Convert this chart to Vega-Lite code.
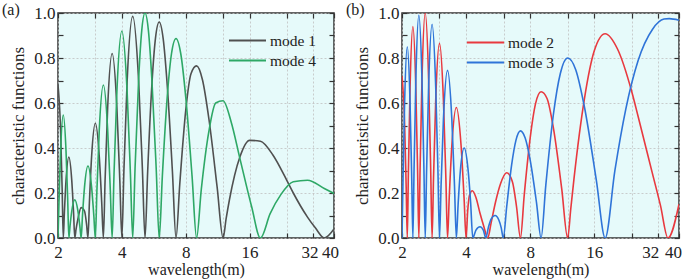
{
  "$schema": "https://vega.github.io/schema/vega-lite/v6.json",
  "padding": {"left": 1, "top": 1, "right": 2, "bottom": 0},
  "background": "white",
  "spacing": 5,
  "config": {
    "font": "Liberation Serif",
    "view": {"stroke": "#333333", "strokeWidth": 1.5, "fill": "#e6fafa"},
    "axis": {
      "labelFont": "Liberation Serif", "labelFontSize": 17, "labelColor": "#222222",
      "titleFont": "Liberation Serif", "titleFontSize": 17, "titleFontWeight": "normal", "titleColor": "#222222",
      "tickColor": "#333333", "tickWidth": 1.2, "domain": false, "labelOverlap": false, "labelFlush": false,
      "gridColor": "#c0c0c0", "gridDash": [2, 2], "gridWidth": 0.8
    },
    "legend": {"labelFont": "Liberation Serif", "labelFontSize": 15.5, "labelColor": "#222222", "padding": 0},
    "title": {"font": "Liberation Serif", "fontSize": 16, "fontWeight": "normal", "color": "#222222"}
  },
  "datasets": {
    "a": [
      {"x": 2, "y": 0.68, "m": "mode 1"}, {"x": 2.057, "y": 0.48, "m": "mode 1"}, {"x": 2.093, "y": 0.21, "m": "mode 1"}, {"x": 2.1176, "y": 0, "m": "mode 1"},
      {"x": 2.1429, "y": 0.111, "m": "mode 1"}, {"x": 2.1818, "y": 0.255, "m": "mode 1"}, {"x": 2.25, "y": 0.36, "m": "mode 1"}, {"x": 2.3226, "y": 0.255, "m": "mode 1"}, {"x": 2.3684, "y": 0.111, "m": "mode 1"}, {"x": 2.4, "y": 0, "m": "mode 1"},
      {"x": 2.4324, "y": 0.038, "m": "mode 1"}, {"x": 2.4828, "y": 0.085, "m": "mode 1"}, {"x": 2.5714, "y": 0.135, "m": "mode 1"}, {"x": 2.6667, "y": 0.12, "m": "mode 1"}, {"x": 2.7273, "y": 0.06, "m": "mode 1"}, {"x": 2.7692, "y": 0, "m": "mode 1"},
      {"x": 2.8125, "y": 0.158, "m": "mode 1"}, {"x": 2.88, "y": 0.361, "m": "mode 1"}, {"x": 3.0, "y": 0.51, "m": "mode 1"}, {"x": 3.1304, "y": 0.361, "m": "mode 1"}, {"x": 3.2143, "y": 0.158, "m": "mode 1"}, {"x": 3.2727, "y": 0, "m": "mode 1"},
      {"x": 3.3333, "y": 0.253, "m": "mode 1"}, {"x": 3.4286, "y": 0.58, "m": "mode 1"}, {"x": 3.6, "y": 0.82, "m": "mode 1"}, {"x": 3.7895, "y": 0.58, "m": "mode 1"}, {"x": 3.913, "y": 0.253, "m": "mode 1"}, {"x": 4.0, "y": 0, "m": "mode 1"},
      {"x": 4.0909, "y": 0.304, "m": "mode 1"}, {"x": 4.2353, "y": 0.696, "m": "mode 1"}, {"x": 4.5, "y": 0.985, "m": "mode 1"}, {"x": 4.8, "y": 0.696, "m": "mode 1"}, {"x": 5.0, "y": 0.304, "m": "mode 1"}, {"x": 5.1429, "y": 0, "m": "mode 1"},
      {"x": 5.2941, "y": 0.297, "m": "mode 1"}, {"x": 5.5385, "y": 0.679, "m": "mode 1"}, {"x": 5.76, "y": 0.887, "m": "mode 1"}, {"x": 6.0, "y": 0.96, "m": "mode 1"}, {"x": 6.2609, "y": 0.887, "m": "mode 1"}, {"x": 6.5455, "y": 0.679, "m": "mode 1"}, {"x": 6.9231, "y": 0.297, "m": "mode 1"}, {"x": 7.2, "y": 0, "m": "mode 1"},
      {"x": 7.5, "y": 0.24, "m": "mode 1"}, {"x": 8.0, "y": 0.566, "m": "mode 1"}, {"x": 8.4706, "y": 0.73, "m": "mode 1"}, {"x": 9.0, "y": 0.765, "m": "mode 1"}, {"x": 9.6, "y": 0.702, "m": "mode 1"}, {"x": 10.286, "y": 0.53, "m": "mode 1"}, {"x": 11.25, "y": 0.226, "m": "mode 1"}, {"x": 12, "y": 0, "m": "mode 1"},
      {"x": 12.41, "y": 0.087, "m": "mode 1"}, {"x": 12.857, "y": 0.17, "m": "mode 1"}, {"x": 14.4, "y": 0.36, "m": "mode 1"}, {"x": 16, "y": 0.434, "m": "mode 1"}, {"x": 18, "y": 0.43, "m": "mode 1"}, {"x": 20.57, "y": 0.37, "m": "mode 1"}, {"x": 24, "y": 0.255, "m": "mode 1"}, {"x": 25.71, "y": 0.2, "m": "mode 1"}, {"x": 30, "y": 0.093, "m": "mode 1"}, {"x": 32.73, "y": 0.044, "m": "mode 1"}, {"x": 36, "y": 0, "m": "mode 1"}, {"x": 40, "y": 0.04, "m": "mode 1"},
      {"x": 2, "y": 0, "m": "mode 4"}, {"x": 2.0225, "y": 0.169, "m": "mode 4"}, {"x": 2.0571, "y": 0.387, "m": "mode 4"}, {"x": 2.1176, "y": 0.547, "m": "mode 4"}, {"x": 2.1818, "y": 0.387, "m": "mode 4"}, {"x": 2.2222, "y": 0.169, "m": "mode 4"}, {"x": 2.25, "y": 0, "m": "mode 4"},
      {"x": 2.2785, "y": 0.053, "m": "mode 4"}, {"x": 2.3226, "y": 0.12, "m": "mode 4"}, {"x": 2.4, "y": 0.17, "m": "mode 4"}, {"x": 2.4828, "y": 0.12, "m": "mode 4"}, {"x": 2.5352, "y": 0.053, "m": "mode 4"}, {"x": 2.5714, "y": 0, "m": "mode 4"},
      {"x": 2.6087, "y": 0.099, "m": "mode 4"}, {"x": 2.6667, "y": 0.226, "m": "mode 4"}, {"x": 2.7692, "y": 0.32, "m": "mode 4"}, {"x": 2.88, "y": 0.226, "m": "mode 4"}, {"x": 2.9508, "y": 0.099, "m": "mode 4"}, {"x": 3.0, "y": 0, "m": "mode 4"},
      {"x": 3.0508, "y": 0.21, "m": "mode 4"}, {"x": 3.1304, "y": 0.481, "m": "mode 4"}, {"x": 3.2727, "y": 0.68, "m": "mode 4"}, {"x": 3.4286, "y": 0.481, "m": "mode 4"}, {"x": 3.5294, "y": 0.21, "m": "mode 4"}, {"x": 3.6, "y": 0, "m": "mode 4"},
      {"x": 3.6735, "y": 0.284, "m": "mode 4"}, {"x": 3.7895, "y": 0.65, "m": "mode 4"}, {"x": 4.0, "y": 0.92, "m": "mode 4"}, {"x": 4.2353, "y": 0.65, "m": "mode 4"}, {"x": 4.3902, "y": 0.284, "m": "mode 4"}, {"x": 4.5, "y": 0, "m": "mode 4"},
      {"x": 4.6154, "y": 0.309, "m": "mode 4"}, {"x": 4.8, "y": 0.707, "m": "mode 4"}, {"x": 4.9655, "y": 0.924, "m": "mode 4"}, {"x": 5.1429, "y": 1.0, "m": "mode 4"}, {"x": 5.3333, "y": 0.924, "m": "mode 4"}, {"x": 5.5385, "y": 0.707, "m": "mode 4"}, {"x": 5.8065, "y": 0.309, "m": "mode 4"}, {"x": 6.0, "y": 0, "m": "mode 4"},
      {"x": 6.2069, "y": 0.274, "m": "mode 4"}, {"x": 6.5455, "y": 0.627, "m": "mode 4"}, {"x": 6.8571, "y": 0.82, "m": "mode 4"}, {"x": 7.2, "y": 0.887, "m": "mode 4"}, {"x": 7.5789, "y": 0.82, "m": "mode 4"}, {"x": 8.0, "y": 0.627, "m": "mode 4"}, {"x": 8.5714, "y": 0.274, "m": "mode 4"}, {"x": 9.0, "y": 0, "m": "mode 4"},
      {"x": 9.4737, "y": 0.216, "m": "mode 4"}, {"x": 10.286, "y": 0.474, "m": "mode 4"}, {"x": 11.077, "y": 0.6, "m": "mode 4"}, {"x": 12, "y": 0.61, "m": "mode 4"}, {"x": 13.091, "y": 0.517, "m": "mode 4"}, {"x": 14.4, "y": 0.354, "m": "mode 4"}, {"x": 16.364, "y": 0.139, "m": "mode 4"}, {"x": 18, "y": 0, "m": "mode 4"},
      {"x": 20, "y": 0.108, "m": "mode 4"}, {"x": 22.5, "y": 0.194, "m": "mode 4"}, {"x": 25.71, "y": 0.25, "m": "mode 4"}, {"x": 30, "y": 0.257, "m": "mode 4"}, {"x": 36, "y": 0.22, "m": "mode 4"}, {"x": 40, "y": 0.198, "m": "mode 4"}
    ],
    "b": [
      {"x": 2, "y": 0.72, "m": "mode 2"}, {"x": 2.057, "y": 0.51, "m": "mode 2"}, {"x": 2.093, "y": 0.22, "m": "mode 2"}, {"x": 2.1176, "y": 0, "m": "mode 2"},
      {"x": 2.1429, "y": 0.29, "m": "mode 2"}, {"x": 2.1818, "y": 0.665, "m": "mode 2"}, {"x": 2.25, "y": 0.94, "m": "mode 2"}, {"x": 2.3226, "y": 0.665, "m": "mode 2"}, {"x": 2.3684, "y": 0.29, "m": "mode 2"}, {"x": 2.4, "y": 0, "m": "mode 2"},
      {"x": 2.4324, "y": 0.309, "m": "mode 2"}, {"x": 2.4828, "y": 0.707, "m": "mode 2"}, {"x": 2.5714, "y": 1.0, "m": "mode 2"}, {"x": 2.6667, "y": 0.707, "m": "mode 2"}, {"x": 2.7273, "y": 0.309, "m": "mode 2"}, {"x": 2.7692, "y": 0, "m": "mode 2"},
      {"x": 2.8125, "y": 0.267, "m": "mode 2"}, {"x": 2.88, "y": 0.612, "m": "mode 2"}, {"x": 3.0, "y": 0.865, "m": "mode 2"}, {"x": 3.1304, "y": 0.612, "m": "mode 2"}, {"x": 3.2143, "y": 0.267, "m": "mode 2"}, {"x": 3.2727, "y": 0, "m": "mode 2"},
      {"x": 3.3333, "y": 0.179, "m": "mode 2"}, {"x": 3.4286, "y": 0.41, "m": "mode 2"}, {"x": 3.6, "y": 0.58, "m": "mode 2"}, {"x": 3.7895, "y": 0.41, "m": "mode 2"}, {"x": 3.913, "y": 0.179, "m": "mode 2"}, {"x": 4.0, "y": 0, "m": "mode 2"},
      {"x": 4.07, "y": 0.12, "m": "mode 2"}, {"x": 4.15, "y": 0.19, "m": "mode 2"}, {"x": 4.28, "y": 0.21, "m": "mode 2"}, {"x": 4.45, "y": 0.18, "m": "mode 2"}, {"x": 4.65, "y": 0.11, "m": "mode 2"}, {"x": 4.85, "y": 0.05, "m": "mode 2"}, {"x": 5.05, "y": 0, "m": "mode 2"},
      {"x": 5.25, "y": 0.07, "m": "mode 2"}, {"x": 5.5, "y": 0.16, "m": "mode 2"}, {"x": 5.8, "y": 0.24, "m": "mode 2"}, {"x": 6.2, "y": 0.29, "m": "mode 2"}, {"x": 6.6, "y": 0.25, "m": "mode 2"}, {"x": 6.9, "y": 0.14, "m": "mode 2"}, {"x": 7.2, "y": 0, "m": "mode 2"},
      {"x": 7.5, "y": 0.19, "m": "mode 2"}, {"x": 8.0, "y": 0.445, "m": "mode 2"}, {"x": 8.4706, "y": 0.596, "m": "mode 2"}, {"x": 9.0, "y": 0.65, "m": "mode 2"}, {"x": 9.6, "y": 0.62, "m": "mode 2"}, {"x": 10.286, "y": 0.488, "m": "mode 2"}, {"x": 11.25, "y": 0.219, "m": "mode 2"}, {"x": 12, "y": 0, "m": "mode 2"},
      {"x": 12.41, "y": 0.13, "m": "mode 2"}, {"x": 12.857, "y": 0.266, "m": "mode 2"}, {"x": 14.4, "y": 0.622, "m": "mode 2"}, {"x": 16, "y": 0.832, "m": "mode 2"}, {"x": 18, "y": 0.908, "m": "mode 2"}, {"x": 20.57, "y": 0.84, "m": "mode 2"}, {"x": 24, "y": 0.65, "m": "mode 2"}, {"x": 25.71, "y": 0.54, "m": "mode 2"}, {"x": 30, "y": 0.287, "m": "mode 2"}, {"x": 32.73, "y": 0.145, "m": "mode 2"}, {"x": 35.5, "y": 0, "m": "mode 2"}, {"x": 40, "y": 0.15, "m": "mode 2"},
      {"x": 2, "y": 0, "m": "mode 3"}, {"x": 2.0225, "y": 0.263, "m": "mode 3"}, {"x": 2.0571, "y": 0.601, "m": "mode 3"}, {"x": 2.1176, "y": 0.85, "m": "mode 3"}, {"x": 2.1818, "y": 0.601, "m": "mode 3"}, {"x": 2.2222, "y": 0.263, "m": "mode 3"}, {"x": 2.25, "y": 0, "m": "mode 3"},
      {"x": 2.2785, "y": 0.306, "m": "mode 3"}, {"x": 2.3226, "y": 0.7, "m": "mode 3"}, {"x": 2.4, "y": 0.99, "m": "mode 3"}, {"x": 2.4828, "y": 0.7, "m": "mode 3"}, {"x": 2.5352, "y": 0.306, "m": "mode 3"}, {"x": 2.5714, "y": 0, "m": "mode 3"},
      {"x": 2.6087, "y": 0.294, "m": "mode 3"}, {"x": 2.6667, "y": 0.672, "m": "mode 3"}, {"x": 2.7692, "y": 0.95, "m": "mode 3"}, {"x": 2.88, "y": 0.672, "m": "mode 3"}, {"x": 2.9508, "y": 0.294, "m": "mode 3"}, {"x": 3.0, "y": 0, "m": "mode 3"},
      {"x": 3.0508, "y": 0.23, "m": "mode 3"}, {"x": 3.1304, "y": 0.527, "m": "mode 3"}, {"x": 3.2727, "y": 0.745, "m": "mode 3"}, {"x": 3.4286, "y": 0.527, "m": "mode 3"}, {"x": 3.5294, "y": 0.23, "m": "mode 3"}, {"x": 3.6, "y": 0, "m": "mode 3"},
      {"x": 3.67, "y": 0.15, "m": "mode 3"}, {"x": 3.76, "y": 0.3, "m": "mode 3"}, {"x": 3.92, "y": 0.4, "m": "mode 3"}, {"x": 4.08, "y": 0.31, "m": "mode 3"}, {"x": 4.2, "y": 0.16, "m": "mode 3"}, {"x": 4.3, "y": 0, "m": "mode 3"},
      {"x": 4.45, "y": 0.035, "m": "mode 3"}, {"x": 4.65, "y": 0.05, "m": "mode 3"}, {"x": 4.82, "y": 0.035, "m": "mode 3"}, {"x": 4.95, "y": 0, "m": "mode 3"},
      {"x": 5.1, "y": 0.05, "m": "mode 3"}, {"x": 5.25, "y": 0.085, "m": "mode 3"}, {"x": 5.47, "y": 0.1, "m": "mode 3"}, {"x": 5.7, "y": 0.08, "m": "mode 3"}, {"x": 5.85, "y": 0.045, "m": "mode 3"}, {"x": 5.98, "y": 0, "m": "mode 3"},
      {"x": 6.2069, "y": 0.14, "m": "mode 3"}, {"x": 6.5455, "y": 0.325, "m": "mode 3"}, {"x": 6.8571, "y": 0.434, "m": "mode 3"}, {"x": 7.2, "y": 0.476, "m": "mode 3"}, {"x": 7.5789, "y": 0.444, "m": "mode 3"}, {"x": 8.0, "y": 0.346, "m": "mode 3"}, {"x": 8.5714, "y": 0.155, "m": "mode 3"}, {"x": 9.0, "y": 0, "m": "mode 3"},
      {"x": 9.4737, "y": 0.235, "m": "mode 3"}, {"x": 10.286, "y": 0.55, "m": "mode 3"}, {"x": 11.077, "y": 0.73, "m": "mode 3"}, {"x": 12, "y": 0.8, "m": "mode 3"}, {"x": 13.091, "y": 0.748, "m": "mode 3"}, {"x": 14.4, "y": 0.58, "m": "mode 3"}, {"x": 16.364, "y": 0.256, "m": "mode 3"}, {"x": 18, "y": 0, "m": "mode 3"},
      {"x": 20, "y": 0.3, "m": "mode 3"}, {"x": 22.5, "y": 0.573, "m": "mode 3"}, {"x": 25.71, "y": 0.789, "m": "mode 3"}, {"x": 30, "y": 0.927, "m": "mode 3"}, {"x": 34, "y": 0.973, "m": "mode 3"}, {"x": 36, "y": 0.975, "m": "mode 3"}, {"x": 40, "y": 0.968, "m": "mode 3"}
    ]
  },
  "hconcat": [
    {
      "width": 276, "height": 225,
      "title": {"text": "(a)", "anchor": "start", "frame": "group", "dx": -56, "offset": 0, "dy": 14},
      "data": {"name": "a"},
      "layer": [
        {
          "mark": {"type": "line", "strokeWidth": 1.6, "interpolate": "monotone", "clip": true},
          "encoding": {
            "x": {"field": "x", "type": "quantitative", "scale": {"type": "log", "base": 2, "domain": [2, 40], "nice": false},
                  "axis": {"orient": "bottom", "values": [2, 3, 4, 6, 8, 12, 16, 24, 32, 40], "labelExpr": "indexof([2,4,8,16,32,40], datum.value) >= 0 ? datum.value : ''",
                           "labelOffset": {"condition": [{"test": "datum.value == 32", "value": -4}, {"test": "datum.value == 40", "value": -4}], "value": 0},
                           "title": "wavelength(m)", "titleFontSize": 16, "tickSize": -5, "labelPadding": 11.5, "grid": true, "titlePadding": 1}},
            "y": {"field": "y", "type": "quantitative", "scale": {"domain": [0, 1], "nice": false},
                  "axis": {"orient": "left", "values": [0, 0.1, 0.2, 0.3, 0.4, 0.5, 0.6, 0.7, 0.8, 0.9, 1.0], "labelExpr": "round(datum.value * 10) % 2 == 0 ? format(datum.value, '.1f') : ''", "title": "characteristic functions", "tickSize": -5, "labelPadding": 8, "grid": false, "titlePadding": 6}},
            "color": {"field": "m", "type": "nominal", "scale": {"domain": ["mode 1", "mode 4"], "range": ["#505050", "#2ea866"]},
                      "legend": {"title": null, "orient": "none", "legendX": 179, "legendY": 17, "symbolType": "M-2,0L2,0", "symbolSize": 342, "symbolStrokeWidth": 1.8, "rowPadding": 1, "labelOffset": 12}}
          }
        },
        {
          "mark": {"type": "point", "opacity": 0},
          "encoding": {
            "x": {"field": "x", "type": "quantitative", "axis": {"orient": "top", "values": [2, 3, 4, 6, 8, 12, 16, 24, 32, 40], "labels": false, "title": null, "tickSize": -5, "grid": false}},
            "y": {"field": "y", "type": "quantitative", "axis": {"orient": "right", "values": [0, 0.1, 0.2, 0.3, 0.4, 0.5, 0.6, 0.7, 0.8, 0.9, 1.0], "labels": false, "title": null, "tickSize": -5, "grid": true,
                  "gridOpacity": {"condition": {"test": "round(datum.value * 10) % 2 == 0", "value": 1}, "value": 0}}}
          }
        }
      ],
      "resolve": {"axis": {"x": "independent", "y": "independent"}}
    },
    {
      "width": 277, "height": 225,
      "title": {"text": "(b)", "anchor": "start", "frame": "group", "dx": -56, "offset": 0, "dy": 14},
      "data": {"name": "b"},
      "layer": [
        {
          "mark": {"type": "line", "strokeWidth": 1.6, "interpolate": "monotone", "clip": true},
          "encoding": {
            "x": {"field": "x", "type": "quantitative", "scale": {"type": "log", "base": 2, "domain": [2, 40], "nice": false},
                  "axis": {"orient": "bottom", "values": [2, 3, 4, 6, 8, 12, 16, 24, 32, 40], "labelExpr": "indexof([2,4,8,16,32,40], datum.value) >= 0 ? datum.value : ''",
                           "labelOffset": {"condition": [{"test": "datum.value == 32", "value": -8}, {"test": "datum.value == 40", "value": -6}], "value": 0},
                           "title": "wavelength(m)", "titleFontSize": 16, "tickSize": -5, "labelPadding": 11.5, "grid": true, "titlePadding": 1}},
            "y": {"field": "y", "type": "quantitative", "scale": {"domain": [0, 1], "nice": false},
                  "axis": {"orient": "left", "values": [0, 0.1, 0.2, 0.3, 0.4, 0.5, 0.6, 0.7, 0.8, 0.9, 1.0], "labelExpr": "round(datum.value * 10) % 2 == 0 ? format(datum.value, '.1f') : ''", "title": "characteristic functions", "tickSize": -5, "labelPadding": 8, "grid": false, "titlePadding": 6}},
            "color": {"field": "m", "type": "nominal", "scale": {"domain": ["mode 2", "mode 3"], "range": ["#e8393f", "#2f74d8"]},
                      "legend": {"title": null, "orient": "none", "legendX": 73, "legendY": 19, "symbolType": "M-2,0L2,0", "symbolSize": 342, "symbolStrokeWidth": 1.8, "rowPadding": 1, "labelOffset": 12}}
          }
        },
        {
          "mark": {"type": "point", "opacity": 0},
          "encoding": {
            "x": {"field": "x", "type": "quantitative", "axis": {"orient": "top", "values": [2, 3, 4, 6, 8, 12, 16, 24, 32, 40], "labels": false, "title": null, "tickSize": -5, "grid": false}},
            "y": {"field": "y", "type": "quantitative", "axis": {"orient": "right", "values": [0, 0.1, 0.2, 0.3, 0.4, 0.5, 0.6, 0.7, 0.8, 0.9, 1.0], "labels": false, "title": null, "tickSize": -5, "grid": true,
                  "gridOpacity": {"condition": {"test": "round(datum.value * 10) % 2 == 0", "value": 1}, "value": 0}}}
          }
        }
      ],
      "resolve": {"axis": {"x": "independent", "y": "independent"}}
    }
  ],
  "resolve": {"scale": {"color": "independent"}, "legend": {"color": "independent"}}
}
